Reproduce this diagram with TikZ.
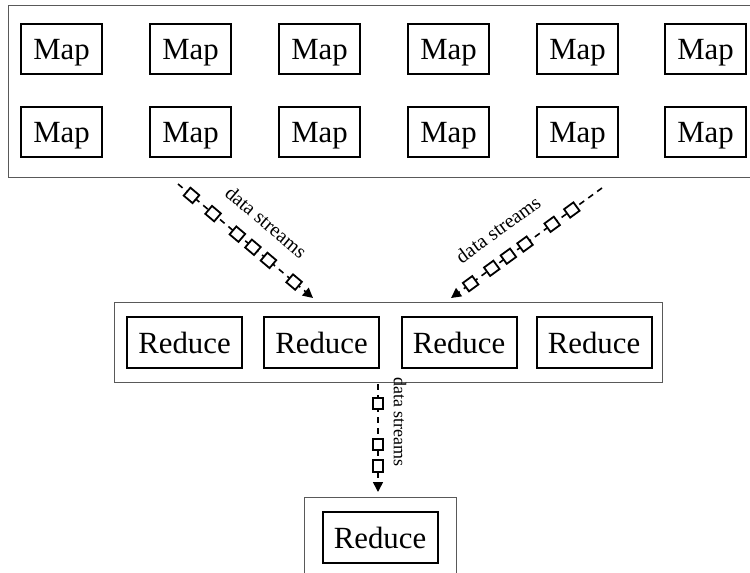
\documentclass[tikz,border=0pt]{standalone}
\usepackage{fontspec}
\setmainfont{Liberation Serif}
\usetikzlibrary{arrows.meta}
\begin{document}
\begin{tikzpicture}[x=0.5pt,y=-0.5pt,
  outerbox/.style={draw=black!65, line width=0.5pt, inner sep=0pt},
  mapbox/.style={draw, line width=1pt, minimum width=40.5pt, minimum height=25pt, inner sep=0pt, text depth=0pt, font=\fontsize{15.4}{18}\selectfont},
  redbox/.style={draw, line width=1pt, minimum width=57.5pt, minimum height=25.5pt, inner sep=0pt, font=\fontsize{15.4}{18}\selectfont},
  stream/.style={line width=0.8pt, dash pattern=on 3pt off 2.5pt, -{Triangle[length=5pt,width=5pt]}},
  packet/.style={draw, solid, fill=white, line width=0.9pt, minimum width=5.8pt, minimum height=5.2pt, inner sep=0pt, sloped},
  lbl/.style={font=\fontsize{10}{12}\selectfont, sloped, inner sep=0pt}]
\useasboundingbox (0,0) rectangle (750,573);
\clip (0,0) rectangle (750,573);
% outer containers
\node[outerbox, minimum width=376pt, minimum height=86pt] (maps) at (384,91) {};
\node[outerbox, minimum width=274pt, minimum height=40pt] (reds) at (388,342) {};
\node[outerbox, minimum width=76pt, minimum height=51.5pt] (fin) at (380,548.5) {};
% map nodes
\node[mapbox] (m11) at (61.5,49) {Map};
\node[mapbox] (m12) at (190.5,49) {Map};
\node[mapbox] (m13) at (319.5,49) {Map};
\node[mapbox] (m14) at (448.5,49) {Map};
\node[mapbox] (m15) at (577.5,49) {Map};
\node[mapbox] (m16) at (705.5,49) {Map};
\node[mapbox] (m21) at (61.5,132) {Map};
\node[mapbox] (m22) at (190.5,132) {Map};
\node[mapbox] (m23) at (319.5,132) {Map};
\node[mapbox] (m24) at (448.5,132) {Map};
\node[mapbox] (m25) at (577.5,132) {Map};
\node[mapbox] (m26) at (705.5,132) {Map};
% reduce nodes
\node[redbox] (r1) at (184.5,342.5) {Reduce};
\node[redbox] (r2) at (321.5,342.5) {Reduce};
\node[redbox] (r3) at (459,342.5) {Reduce};
\node[redbox] (r4) at (594,342.5) {Reduce};
\node[redbox] (rf) at (380,537.5) {Reduce};
% stream end points
\coordinate (s1) at (178,184);
\coordinate (e1) at (313,298);
\coordinate (s2) at (602,188);
\coordinate (e2) at (451,298);
\coordinate (s3) at (378,384);
\coordinate (e3) at (378,492);
% streams
\draw[stream] (s1) --
  node[packet,pos=0.10]{} node[packet,pos=0.26]{} node[packet,pos=0.44]{}
  node[packet,pos=0.555]{} node[packet,pos=0.67]{} node[packet,pos=0.86]{}
  node[lbl,pos=0.52,above=10pt]{data streams} (e1);
\draw[stream] (s2) --
  node[packet,pos=0.20]{} node[packet,pos=0.33]{} node[packet,pos=0.51]{}
  node[packet,pos=0.62]{} node[packet,pos=0.73]{} node[packet,pos=0.87]{}
  node[lbl,pos=0.58,above=10pt]{data streams} (e2);
\draw[stream] (s3) --
  node[packet,pos=0.18]{} node[packet,pos=0.56]{} node[packet,pos=0.76]{}
  node[lbl,pos=0.35,above=7.5pt,font=\fontsize{9}{11}\selectfont]{data streams} (e3);
\end{tikzpicture}
\end{document}
